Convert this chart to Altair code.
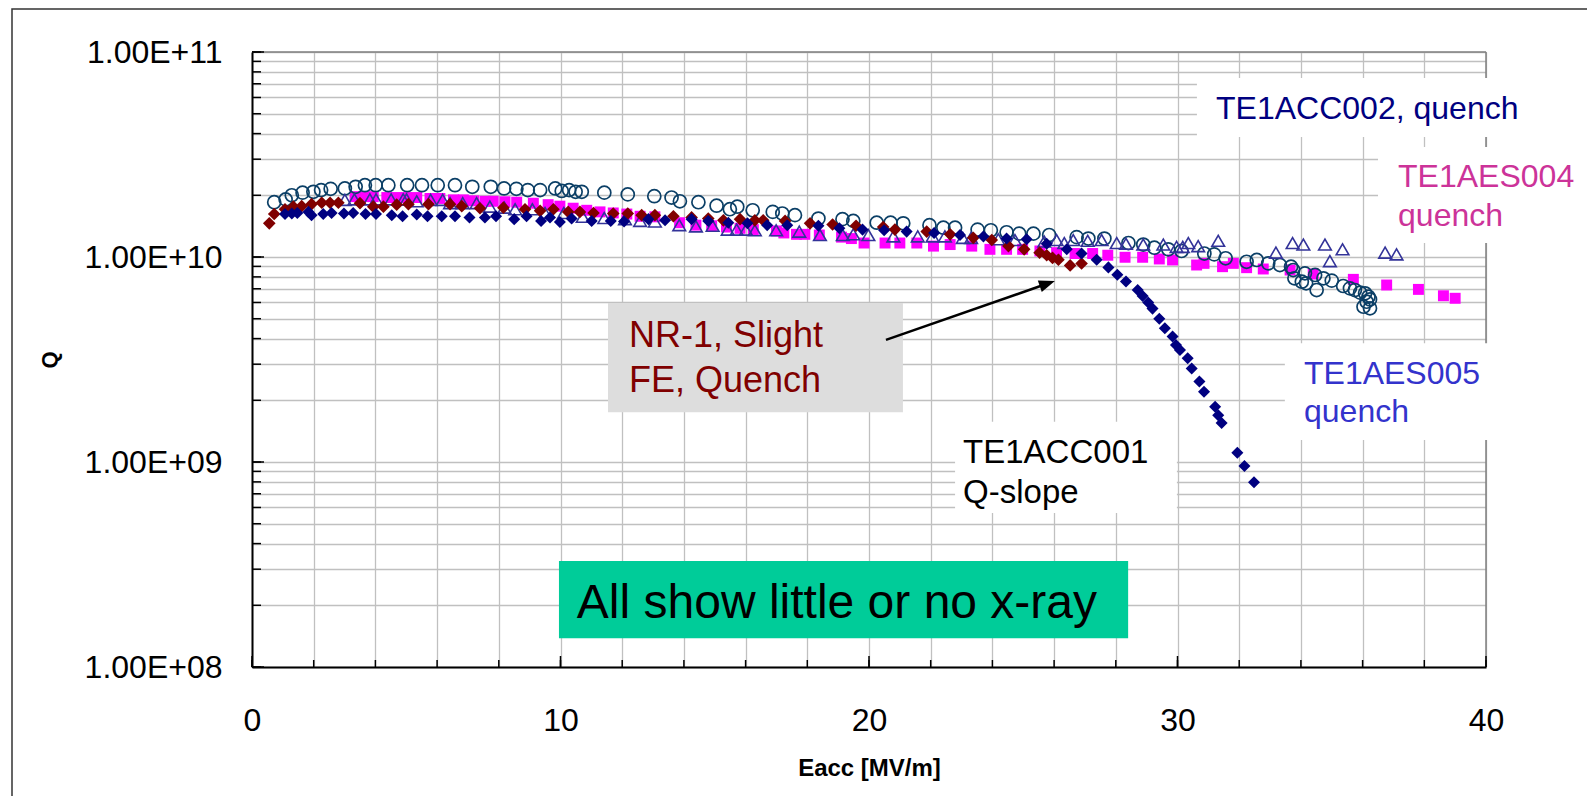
import altair as alt
import pandas as pd

FONT = "Liberation Sans"

# ---------------- data: Eacc [MV/m], Q in units of 1e10 ----------------
acc002_e = [0.72, 1.09, 1.29, 1.64, 1.99, 2.24, 2.55, 3.01, 3.36, 3.66, 4.01, 4.42, 5.03, 5.51, 6.02,
            6.58, 7.14, 7.74, 8.17, 8.57, 8.94, 9.34, 9.83, 10.04, 10.28, 10.49, 10.69, 11.42, 12.18, 13.04,
            13.60, 13.87, 14.47, 15.06, 15.49, 15.73, 16.23, 16.88, 17.19, 17.60, 18.36, 19.14, 19.49, 20.25,
            20.70, 21.11, 21.96, 22.41, 22.79, 23.52, 23.95, 24.46, 24.87, 25.33, 25.84, 26.73, 27.11, 27.63,
            28.41, 28.89, 29.25, 29.70, 30.13, 30.87, 31.19, 31.56, 32.24, 32.57, 32.94, 33.32, 33.68, 33.75,
            34.13, 34.46, 34.73, 35.00, 33.79, 34.03, 34.17, 34.51, 35.37, 35.59, 35.75, 35.92, 36.08, 36.19,
            36.24, 36.03, 36.24, 36.13]
acc002_q = [1.85, 1.91, 2.00, 2.06, 2.08, 2.12, 2.15, 2.16, 2.20, 2.24, 2.24, 2.24, 2.24, 2.24, 2.24,
            2.24, 2.20, 2.20, 2.16, 2.15, 2.12, 2.12, 2.16, 2.10, 2.12, 2.08, 2.08, 2.06, 2.02, 1.98,
            1.95, 1.87, 1.85, 1.78, 1.71, 1.76, 1.69, 1.66, 1.63, 1.60, 1.54, 1.53, 1.50, 1.47,
            1.47, 1.46, 1.43, 1.39, 1.39, 1.36, 1.35, 1.32, 1.30, 1.30, 1.28, 1.25, 1.23, 1.23,
            1.17, 1.15, 1.11, 1.09, 1.07, 1.04, 1.03, 0.986, 0.948, 0.967, 0.931, 0.914, 0.897, 0.864,
            0.832, 0.817, 0.787, 0.767, 0.787, 0.758, 0.744, 0.690, 0.722, 0.703, 0.690, 0.670, 0.665, 0.640,
            0.621, 0.572, 0.562, 0.605]

aes005_e = [3.01, 3.32, 3.82, 4.02, 4.51, 4.90, 5.01, 5.34, 5.79, 6.18, 6.42, 6.83, 7.28, 7.71, 8.18,
            8.53, 9.09, 9.50, 10.11, 10.72, 11.42, 12.09, 12.58, 13.06, 13.85, 14.39, 14.93, 15.42, 15.71,
            16.01, 16.30, 16.99, 17.74, 18.41, 19.15, 19.49, 19.98, 20.79, 21.58, 22.06, 22.46, 23.04, 23.31,
            24.19, 24.73, 25.68, 26.08, 26.33, 26.62, 27.09, 27.54, 28.03, 28.33, 28.89, 29.54, 29.97, 30.17,
            30.35, 30.67, 31.32, 33.19, 33.73, 34.08, 34.78, 34.94, 35.35, 36.73, 37.10]
aes005_q = [1.90, 1.91, 1.91, 1.91, 1.91, 1.91, 1.91, 1.87, 1.90, 1.90, 1.83, 1.83, 1.83, 1.76, 1.74,
            1.71, 1.71, 1.64, 1.64, 1.57, 1.55, 1.53, 1.50, 1.49, 1.43, 1.41, 1.42, 1.36, 1.36,
            1.36, 1.35, 1.35, 1.33, 1.28, 1.28, 1.29, 1.28, 1.26, 1.26, 1.26, 1.26, 1.24, 1.24,
            1.22, 1.21, 1.19, 1.21, 1.17, 1.21, 1.20, 1.21, 1.17, 1.16, 1.15, 1.15, 1.12, 1.12,
            1.17, 1.13, 1.20, 1.05, 1.17, 1.15, 1.15, 0.955, 1.09, 1.05, 1.03]

aes004_e = [3.34, 3.61, 3.93, 4.37, 4.69, 5.01, 5.34, 5.77, 6.09, 6.53, 6.85, 7.18, 7.55, 7.82, 8.20,
            8.58, 9.12, 9.60, 9.98, 10.41, 10.85, 11.28, 11.71, 12.15, 12.58, 13.06, 13.86, 14.39, 14.90,
            15.38, 15.82, 16.25, 17.00, 17.24, 17.65, 17.92, 18.39, 19.11, 19.43, 19.84, 20.52, 21.00, 21.55,
            22.09, 22.63, 23.33, 23.92, 24.46, 24.98, 25.54, 26.08, 26.68, 27.25, 27.74, 28.30, 28.87, 29.41,
            29.84, 30.62, 30.86, 31.46, 31.81, 32.24, 32.78, 33.65, 34.40, 35.70, 36.78, 37.81, 38.62, 39.00]
aes004_q = [1.97, 1.97, 1.97, 1.95, 1.95, 1.95, 1.95, 1.93, 1.93, 1.90, 1.90, 1.88, 1.87, 1.87, 1.86,
            1.85, 1.83, 1.80, 1.77, 1.73, 1.69, 1.66, 1.64, 1.62, 1.58, 1.57, 1.47, 1.43, 1.42,
            1.40, 1.38, 1.36, 1.34, 1.31, 1.29, 1.29, 1.28, 1.25, 1.23, 1.17, 1.17, 1.17, 1.17,
            1.13, 1.15, 1.13, 1.09, 1.09, 1.09, 1.07, 1.05, 1.04, 1.04, 1.02, 0.997, 0.997, 0.978,
            0.967, 0.914, 0.931, 0.897, 0.931, 0.887, 0.874, 0.864, 0.826, 0.778, 0.730, 0.695, 0.647, 0.629]

acc001_e = [1.07, 1.29, 1.47, 1.83, 1.93, 2.31, 2.58, 2.98, 3.28, 3.68, 4.02, 4.53, 4.88, 5.34, 5.69,
            6.15, 6.58, 7.05, 7.55, 7.91, 8.50, 8.90, 9.37, 9.66, 9.98, 10.36, 11.01, 11.63, 12.06, 12.85,
            13.39, 14.25, 14.79, 15.44, 16.06, 16.70, 17.35, 18.36, 19.04, 19.79, 20.49, 21.22, 22.11, 22.95,
            23.71, 24.46, 25.11, 25.76, 26.41, 26.89, 27.38, 27.76, 28.05, 28.33, 28.71, 28.87, 29.05, 29.19,
            29.41, 29.59, 29.84, 29.95, 30.08, 30.33, 30.46, 30.71, 30.86, 31.22, 31.32, 31.43, 31.94, 32.17,
            32.48]
acc001_q = [1.62, 1.63, 1.64, 1.66, 1.60, 1.62, 1.64, 1.63, 1.64, 1.62, 1.62, 1.60, 1.58, 1.61, 1.58,
            1.58, 1.58, 1.56, 1.56, 1.58, 1.53, 1.58, 1.50, 1.56, 1.48, 1.54, 1.50, 1.50, 1.49, 1.53,
            1.51, 1.53, 1.50, 1.47, 1.46, 1.43, 1.43, 1.42, 1.38, 1.36, 1.35, 1.33, 1.31, 1.28,
            1.26, 1.23, 1.22, 1.16, 1.09, 1.04, 0.97, 0.89, 0.82, 0.76, 0.69, 0.645, 0.60, 0.56,
            0.50, 0.449, 0.409, 0.372, 0.352, 0.321, 0.286, 0.247, 0.220, 0.186, 0.169, 0.155, 0.111, 0.0955,
            0.0796]

nr1_e = [0.56, 0.72, 1.07, 1.34, 1.61, 1.93, 2.26, 2.53, 2.80, 3.50, 3.93, 4.26, 4.69, 5.07, 5.72,
         6.42, 6.80, 7.39, 8.15, 8.85, 9.34, 9.77, 10.25, 10.63, 11.07, 11.71, 12.18, 12.63, 13.06, 13.66,
         14.25, 14.79, 15.28, 15.82, 16.30, 16.57, 17.28, 18.09, 18.82, 19.58, 20.46, 20.84, 21.87, 22.63,
         23.38, 23.98, 24.52, 25.03, 25.53, 25.76, 25.95, 26.14, 26.52, 26.89]
nr1_q = [1.46, 1.62, 1.71, 1.76, 1.77, 1.81, 1.84, 1.84, 1.84, 1.83, 1.76, 1.76, 1.80, 1.81, 1.81,
         1.81, 1.77, 1.73, 1.74, 1.71, 1.68, 1.71, 1.66, 1.66, 1.64, 1.63, 1.63, 1.60, 1.60, 1.58,
         1.56, 1.54, 1.51, 1.53, 1.51, 1.51, 1.50, 1.46, 1.44, 1.42, 1.40, 1.36, 1.33, 1.29,
         1.24, 1.21, 1.13, 1.09, 1.05, 1.02, 0.99, 0.97, 0.91, 0.93]

x_grid = list(range(0, 41, 2))
x_major = [0, 10, 20, 30, 40]
y_major = [1e8, 1e9, 1e10, 1e11]
y_grid = [m * d for d in [1e8, 1e9, 1e10] for m in range(1, 10)] + [1e11]

# ---------------- chart ----------------
W, H = 1234, 615
PAD = {"left": 244, "top": 44, "right": 101, "bottom": 129}


def series(es, qs):
    return pd.DataFrame({"E": es, "Q": [q * 1e10 for q in qs]})


xs = alt.Scale(domain=[0, 40], nice=False, zero=False)
ys = alt.Scale(type="log", domain=[1e8, 1e11], nice=False)

xaxis = alt.Axis(values=x_grid, labelExpr="datum.value % 10 == 0 ? datum.label : ''",
                 grid=True, gridColor="#C0C0C0", gridWidth=1.3, ticks=False, tickSize=0,
                 domain=True, domainColor="#000000", domainWidth=2,
                 labelFont=FONT, labelFontSize=32, labelColor="#000000", labelPadding=38,
                 labelOverlap=False, labelFlush=False,
                 title="Eacc [MV/m]", titleFont=FONT, titleFontSize=24, titleFontWeight="bold",
                 titleColor="#000000", titlePadding=20)
ylab = ("abs(log(datum.value)/LN10 - round(log(datum.value)/LN10)) < 0.001 ? "
        "'1.00E+' + (round(log(datum.value)/LN10) < 10 ? '0' : '') + round(log(datum.value)/LN10) : ''")
yaxis = alt.Axis(values=y_grid, labelExpr=ylab,
                 grid=True, gridColor="#C0C0C0", gridWidth=1.3, ticks=False, tickSize=0,
                 domain=True, domainColor="#000000", domainWidth=2,
                 labelFont=FONT, labelFontSize=32, labelColor="#000000", labelPadding=30,
                 labelOverlap=False, labelFlush=False,
                 title="Q", titleFont=FONT, titleFontSize=22, titleFontWeight="bold",
                 titleColor="#000000", titlePadding=23)

X = alt.X("E:Q", scale=xs, axis=xaxis)
Y = alt.Y("Q:Q", scale=ys, axis=yaxis)

# outer frame of the picture: only its left and top sides fall inside the page
border = alt.Chart(pd.DataFrame({"a": [0]})).mark_rect(
    fillOpacity=0, stroke="#333333", strokeWidth=1.5).encode(
    x=alt.value(-240), x2=alt.value(W + PAD["right"] + 40),
    y=alt.value(-43), y2=alt.value(H + PAD["bottom"] + 40))

frame_top = alt.Chart(pd.DataFrame({"E": [0], "E2": [40], "Q": [1e11]})).mark_rule(
    color="#808080", strokeWidth=1.5).encode(x=X, x2="E2:Q", y=Y)
frame_right = alt.Chart(pd.DataFrame({"E": [40], "Q": [1e8], "Q2": [1e11]})).mark_rule(
    color="#808080", strokeWidth=1.5).encode(x=X, y=Y, y2="Q2:Q")

boxes_df = pd.DataFrame({
    "E": [30.63, 36.5, 33.48, 22.79, 11.54, 9.95],
    "E2": [41.75, 43.05, 41.0, 29.98, 21.10, 28.40],
    "Q": [7.46e10, 3.44e10, 3.80e9, 1.57e9, 5.97e9, 3.29e8],
    "Q2": [3.85e10, 1.17e10, 1.28e9, 5.64e8, 1.75e9, 1.38e8],
    "fill": ["#FFFFFF", "#FFFFFF", "#FFFFFF", "#FFFFFF", "#DDDDDD", "#00CC99"],
})
boxes = alt.Chart(boxes_df).mark_rect().encode(
    x=X, x2="E2:Q", y=Y, y2="Q2:Q", color=alt.Color("fill:N", scale=None))

xt_minor = alt.Chart(pd.DataFrame({"E": x_grid})).mark_rule(color="#000000", strokeWidth=1.5).encode(
    x=X, y=alt.value(H), y2=alt.value(H - 7))
xt_major = alt.Chart(pd.DataFrame({"E": x_major})).mark_rule(color="#000000", strokeWidth=1.5).encode(
    x=X, y=alt.value(H), y2=alt.value(H - 11))
yt_minor = alt.Chart(pd.DataFrame({"Q": y_grid})).mark_rule(color="#000000", strokeWidth=1.5).encode(
    y=Y, x=alt.value(0), x2=alt.value(9))
yt_major = alt.Chart(pd.DataFrame({"Q": y_major})).mark_rule(color="#000000", strokeWidth=1.5).encode(
    y=Y, x=alt.value(0), x2=alt.value(12))

sq = alt.Chart(series(aes004_e, aes004_q)).mark_point(
    shape="square", filled=True, size=120, color="#FF00FF", opacity=1).encode(x=X, y=Y)
circ = alt.Chart(series(acc002_e, acc002_q)).mark_point(
    shape="circle", filled=False, size=170, color="#0B3F66", strokeWidth=1.7, opacity=1).encode(x=X, y=Y)
tri = alt.Chart(series(aes005_e, aes005_q)).mark_point(
    shape="triangle-up", filled=False, size=160, color="#333399", strokeWidth=1.6, opacity=1).encode(x=X, y=Y)
red = alt.Chart(series(nr1_e, nr1_q)).mark_point(
    shape="diamond", filled=True, size=160, color="#800000", opacity=1).encode(x=X, y=Y)
navy = alt.Chart(series(acc001_e, acc001_q)).mark_point(
    shape="diamond", filled=True, size=145, color="#000080", opacity=1).encode(x=X, y=Y)

arrow = alt.Chart(pd.DataFrame({"E": [20.55], "E2": [25.72], "Q": [3.94e9], "Q2": [7.36e9]})).mark_rule(
    color="#000000", strokeWidth=2.5).encode(x=X, x2="E2:Q", y=Y, y2="Q2:Q")
head = alt.Chart(pd.DataFrame({"E": [25.72], "Q": [7.36e9]})).mark_point(
    shape="M0,-1L0.6,0.6L-0.6,0.6Z", filled=True, color="#000000", size=400, angle=70.8,
    opacity=1).encode(x=X, y=Y)

texts_df = pd.DataFrame({
    "txt": ["TE1ACC002, quench", "TE1AES004", "quench", "TE1AES005", "quench",
            "TE1ACC001", "Q-slope", "NR-1, Slight", "FE, Quench", "All show little or no x-ray"],
    "E": [31.25, 37.15, 37.15, 34.10, 34.10, 23.05, 23.05, 12.22, 12.22, 10.53],
    "Q": [4.70e10, 2.19e10, 1.42e10, 2.40e9, 1.57e9, 9.89e8, 6.31e8, 3.65e9, 2.20e9, 1.73e8],
    "col": ["#000080", "#CC3399", "#CC3399", "#3333CC", "#3333CC",
            "#000000", "#000000", "#800000", "#800000", "#000000"],
    "fs": [32, 32, 32, 32, 32, 33, 33, 36, 36, 48],
})
texts = alt.Chart(texts_df).mark_text(align="left", baseline="alphabetic", font=FONT).encode(
    x=X, y=Y, text="txt:N", color=alt.Color("col:N", scale=None), size=alt.Size("fs:Q", scale=None))

chart = alt.layer(
    border, frame_top, frame_right, boxes, arrow, head,
    sq, circ, tri, red, navy,
    xt_minor, xt_major, yt_minor, yt_major, texts,
).properties(
    width=W, height=H,
    padding=PAD,
    autosize=alt.AutoSizeParams(type="none"),
    background="#FFFFFF",
).configure_view(stroke=None)

chart.save("out.html", embed_options={"renderer": "svg", "actions": False})
